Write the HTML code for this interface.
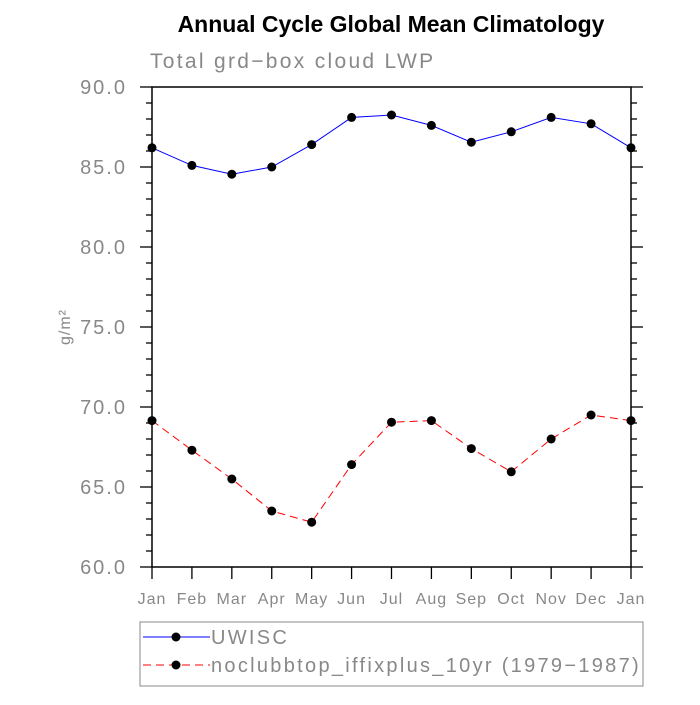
<!DOCTYPE html>
<html><head><meta charset="utf-8"><style>
body{margin:0;background:#fff;}
svg text{font-family:"Liberation Sans",sans-serif;}
</style></head><body>
<svg id="chart" width="700" height="700">
<text x="391" y="32" text-anchor="middle" font-size="23" font-weight="bold">Annual Cycle Global Mean Climatology</text>
<text x="150" y="68" font-size="21" fill="#888" letter-spacing="2.3">Total grd−box cloud LWP</text>
<text transform="translate(70,327) rotate(-90)" text-anchor="middle" font-size="16" fill="#888" letter-spacing="1">g/m²</text>
<g id="axes"></g>
<g id="series"></g>
<g>
<rect x="140" y="622" width="503" height="64" fill="none" stroke="#888" stroke-width="1"/>
<g>
<line x1="143" y1="637" x2="210" y2="637" stroke="#0000ff" stroke-width="1"/>
<circle cx="176" cy="637" r="4.5" fill="#000"/>
<text x="211" y="644" font-size="20" fill="#888" letter-spacing="2.3">UWISC</text></g>
<g>
<line x1="143" y1="665" x2="210" y2="665" stroke="#ff0000" stroke-width="1" stroke-dasharray="8,5"/>
<circle cx="176" cy="665" r="4.5" fill="#000"/>
<text x="211" y="672" font-size="20" fill="#888" letter-spacing="2.3">noclubbtop_iffixplus_10yr (1979−1987)</text></g>
</g>
</svg>
<script>
const months=["Jan","Feb","Mar","Apr","May","Jun","Jul","Aug","Sep","Oct","Nov","Dec","Jan"];
const uwisc=[86.2,85.1,84.55,85.0,86.4,88.1,88.25,87.6,86.55,87.2,88.1,87.7,86.2];
const noclub=[69.15,67.3,65.5,63.5,62.8,66.4,69.05,69.15,67.4,65.95,68.0,69.5,69.15];
const yTicks=["60.0","65.0","70.0","75.0","80.0","85.0","90.0"];
const yMin=60,yMax=90;
const X0=152,X1=631,Y0=567,Y1=87;
const NS="http://www.w3.org/2000/svg";
function xs(i){return X0+(X1-X0)*i/(months.length-1);}
function ys(v){return Y0-(v-yMin)/(yMax-yMin)*(Y0-Y1);}
function mk(t,a,p){const e=document.createElementNS(NS,t);for(const k in a)e.setAttribute(k,a[k]);p.appendChild(e);return e;}
const ax=document.getElementById('axes');
const frame=mk('rect',{x:X0,y:Y1,width:X1-X0,height:Y0-Y1,fill:'none',stroke:'#000','stroke-width':1.5},ax);


for(let v=yMin;v<=yMax;v++){
  const major=v%5===0,L=major?12:6,y=ys(v);
  mk('line',{x1:X0-L,y1:y,x2:X0,y2:y,stroke:'#000','stroke-width':1.3},ax);
  mk('line',{x1:X1,y1:y,x2:X1+L,y2:y,stroke:'#000','stroke-width':1.3},ax);
}
yTicks.forEach(t=>{
  const e=mk('text',{x:127,y:ys(parseFloat(t))+7,'text-anchor':'end','font-size':20,fill:'#888','letter-spacing':2},ax);
  e.textContent=t;
  
  
});
months.forEach((m,i)=>{
  mk('line',{x1:xs(i),y1:Y0,x2:xs(i),y2:Y0+12,stroke:'#000','stroke-width':1.3},ax);
  const e=mk('text',{x:xs(i),y:604,'text-anchor':'middle','font-size':16,fill:'#888','letter-spacing':1},ax);
  e.textContent=m;
  
  
});
const sg=document.getElementById('series');
function draw(vals,color,dash,name){
  const g=mk('g',{},sg);
  
  
  const pl=mk('polyline',{points:vals.map((v,i)=>xs(i)+','+ys(v)).join(' '),fill:'none',stroke:color,'stroke-width':1,'stroke-dasharray':dash},g);
  
  
  vals.forEach((v,i)=>{
    const c=mk('circle',{cx:xs(i),cy:ys(v),r:4.5,fill:'#000'},g);
    
    
  });
}
draw(uwisc,'#0000ff','none','series-uwisc');
draw(noclub,'#ff0000','8,5','series-noclubbtop');
</script>
</body></html>
